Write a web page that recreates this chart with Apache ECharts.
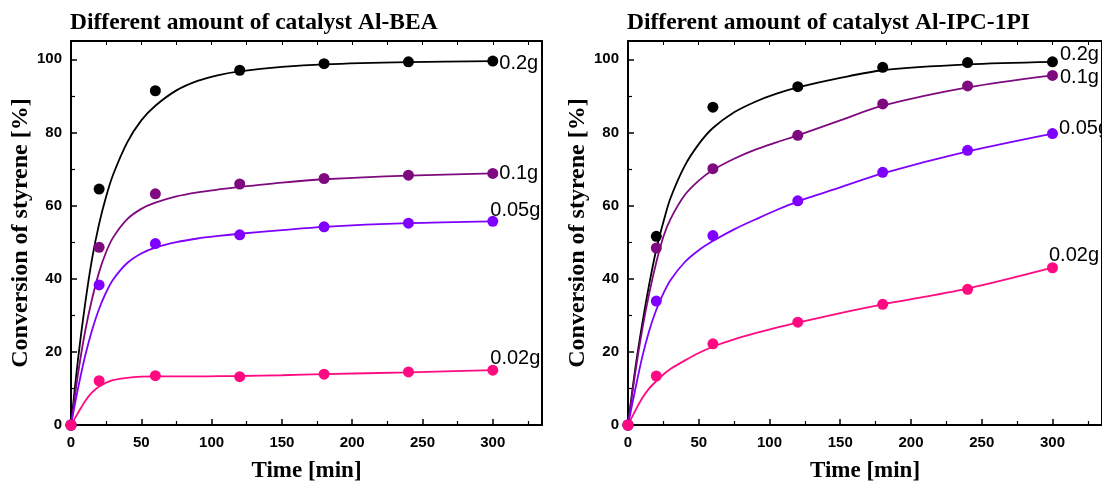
<!DOCTYPE html>
<html>
<head>
<meta charset="utf-8">
<script src="https://cdn.jsdelivr.net/npm/echarts@6/dist/echarts.min.js"></script>
<style>
html,body{margin:0;padding:0;background:#fff;}
#chart{width:1102px;height:488px;}
</style>
</head>
<body>
<div id="chart"></div>
<script>
// ---- data ----
const titles = ['Different amount of catalyst Al-BEA', 'Different amount of catalyst Al-IPC-1PI'];
const seriesNames = ['0.2g', '0.1g', '0.05g', '0.02g'];
const xTickValues = [0, 50, 100, 150, 200, 250, 300];
const yTickValues = [0, 20, 40, 60, 80, 100];

// measured points
const time = [0, 20, 60, 120, 180, 240, 300];
const bea_02  = [0, 64.5, 91.4, 97.0, 98.8, 99.3, 99.5];
const bea_01  = [0, 48.6, 63.2, 65.9, 67.4, 68.3, 68.8];
const bea_005 = [0, 38.3, 49.6, 52.0, 54.2, 55.2, 55.7];
const bea_002 = [0, 12.1, 13.5, 13.2, 13.9, 14.5, 15.0];

const ipc_02  = [0, 51.6, 86.9, 92.5, 97.8, 99.1, 99.3];
const ipc_01  = [0, 48.4, 70.1, 79.2, 87.8, 92.7, 95.6];
const ipc_005 = [0, 33.9, 51.8, 61.3, 69.1, 75.1, 79.7];
const ipc_002 = [0, 13.4, 22.2, 28.1, 33.0, 37.1, 43.0];

// fitted curves
const fitTime = [0, 5, 10, 15, 20, 25, 30, 40, 50, 60, 75, 90, 105, 120, 150, 180, 240, 300];
const bea_02_fit  = [0, 18, 33, 45.5, 55, 62.5, 68.5, 77.3, 83.3, 87.3, 91.5, 94.1, 95.7, 96.7, 97.9, 98.6, 99.2, 99.5];
const bea_01_fit  = [0, 14, 25.5, 34.5, 41.8, 47.3, 51.3, 56.3, 59.1, 60.8, 62.5, 63.6, 64.4, 65.1, 66.3, 67.2, 68.2, 68.8];
const bea_005_fit = [0, 10, 18.8, 26, 31.8, 36.3, 39.8, 44.3, 46.9, 48.5, 50, 51, 51.7, 52.3, 53.3, 54.2, 55.2, 55.7];
const bea_002_fit = [0, 3.3, 6.5, 8.9, 10.5, 11.6, 12.3, 12.9, 13.2, 13.3, 13.3, 13.3, 13.35, 13.4, 13.6, 13.9, 14.4, 15.0];

const ipc_02_fit  = [0, 15, 27.5, 38.5, 48, 55.5, 62, 70.8, 76.8, 81.2, 85.5, 88.4, 90.6, 92.3, 94.9, 97.0, 98.6, 99.3];
const ipc_01_fit  = [0, 14, 26, 36, 44.5, 51.5, 56.3, 62.8, 66.8, 69.7, 72.8, 75.3, 77.3, 79.2, 83.3, 87.3, 92.3, 95.6];
const ipc_005_fit = [0, 9.5, 18.5, 25.8, 31.5, 36, 39.6, 44.5, 47.8, 50.3, 53.5, 56.2, 58.8, 61.1, 65.0, 68.8, 74.8, 79.7];
const ipc_002_fit = [0, 3.8, 7.3, 10, 12, 13.8, 15.3, 17.6, 19.7, 21.4, 23.4, 25.1, 26.6, 28.0, 30.6, 33.0, 37.3, 43.0];

const panels = [
  { points: [bea_02, bea_01, bea_005, bea_002], fits: [bea_02_fit, bea_01_fit, bea_005_fit, bea_002_fit] },
  { points: [ipc_02, ipc_01, ipc_005, ipc_002], fits: [ipc_02_fit, ipc_01_fit, ipc_005_fit, ipc_002_fit] }
];

// ---- styles ----
const colors = ['#000000', '#7f0a7f', '#7f00ff', '#ff0a80'];
const labelOffsets = [
  [[0, 2], [0, 0], [-9, -11], [-9, -12]],
  [[1, -7], [1, 2], [0, -5], [-10, -12]]
];
const grids = [
  { left: 71, top: 41, width: 471, height: 387 },
  { left: 628, top: 41, width: 479, height: 387 }
];
const serif = '"Liberation Serif", "Times New Roman", serif';
const sans = '"Liberation Sans", Arial, sans-serif';

const xAxes = [], yAxes = [], series = [], titleList = [];
grids.forEach((g, p) => {
  titleList.push({
    text: titles[p], left: g.left - 6, top: 6,
    textStyle: { fontFamily: serif, fontWeight: 'bold', fontSize: 23.5, color: '#000' }
  });
  xAxes.push({
    gridIndex: p, type: 'value', min: 0, max: 335, interval: 50, position: 'bottom',
    name: 'Time [min]', nameLocation: 'middle', nameGap: 35,
    nameTextStyle: { fontFamily: serif, fontWeight: 'bold', fontSize: 23, color: '#000' },
    axisLine: { show: true, onZero: false, lineStyle: { color: '#000', width: 2 } },
    axisTick: { show: true, inside: true, length: 6, lineStyle: { color: '#000', width: 1.5 } },
    minorTick: { show: true, splitNumber: 2, length: 4, lineStyle: { color: '#000', width: 1.2 } },
    axisLabel: {
      showMaxLabel: false, margin: 10, fontFamily: sans, fontWeight: 'bold', fontSize: 15, color: '#000',
      formatter: v => (xTickValues.indexOf(v) >= 0 ? String(v) : '')
    },
    splitLine: { show: false }
  });
  xAxes.push({
    gridIndex: p, type: 'value', min: 0, max: 335, interval: 25, position: 'top',
    axisLine: { show: true, onZero: false, lineStyle: { color: '#000', width: 2 } },
    axisTick: { show: true, inside: true, length: 4, lineStyle: { color: '#000', width: 1 } },
    axisLabel: { show: false }, splitLine: { show: false }
  });
  yAxes.push({
    gridIndex: p, type: 'value', min: 0, max: 105, interval: 20, position: 'left',
    name: 'Conversion of styrene [%]', nameLocation: 'middle', nameGap: 36,
    nameTextStyle: { fontFamily: serif, fontWeight: 'bold', fontSize: 24, color: '#000' },
    axisLine: { show: true, onZero: false, lineStyle: { color: '#000', width: 2 } },
    axisTick: { show: true, inside: true, length: 6, lineStyle: { color: '#000', width: 1.5 } },
    minorTick: { show: true, splitNumber: 2, length: 4, lineStyle: { color: '#000', width: 1.2 } },
    axisLabel: {
      showMaxLabel: false, margin: 9, fontFamily: sans, fontWeight: 'bold', fontSize: 15, color: '#000',
      formatter: v => (yTickValues.indexOf(v) >= 0 ? String(v) : '')
    },
    splitLine: { show: false }
  });
  yAxes.push({
    gridIndex: p, type: 'value', min: 0, max: 105, interval: 20, position: 'right',
    axisLine: { show: true, onZero: false, lineStyle: { color: '#000', width: 2 } },
    axisTick: { show: false }, axisLabel: { show: false }, splitLine: { show: false }
  });

  const panel = panels[p];
  panel.fits.forEach((f, k) => {
    series.push({
      type: 'line', xAxisIndex: 2 * p, yAxisIndex: 2 * p,
      data: fitTime.map((t, i) => [t, f[i]]),
      smooth: 0.3, showSymbol: false, silent: true,
      lineStyle: { color: colors[k], width: 1.8 }, z: 2
    });
  });
  panel.points.forEach((v, k) => {
    series.push({
      type: 'scatter', xAxisIndex: 2 * p, yAxisIndex: 2 * p, name: seriesNames[k],
      data: time.map((t, i) => [t, v[i]]),
      symbolSize: 11, itemStyle: { color: colors[k], opacity: 1 }, z: 3,
      label: {
        show: true, position: 'right', distance: 1, offset: labelOffsets[p][k],
        fontFamily: sans, fontSize: 20, color: '#000', opacity: 1,
        formatter: prm => (prm.dataIndex === time.length - 1 ? seriesNames[k] : '')
      }
    });
  });
});

const chart = echarts.init(document.getElementById('chart'), null, { renderer: 'canvas' });
chart.setOption({
  animation: false,
  backgroundColor: '#fff',
  title: titleList,
  grid: grids,
  xAxis: xAxes,
  yAxis: yAxes,
  series: series
});
</script>
</body>
</html>
